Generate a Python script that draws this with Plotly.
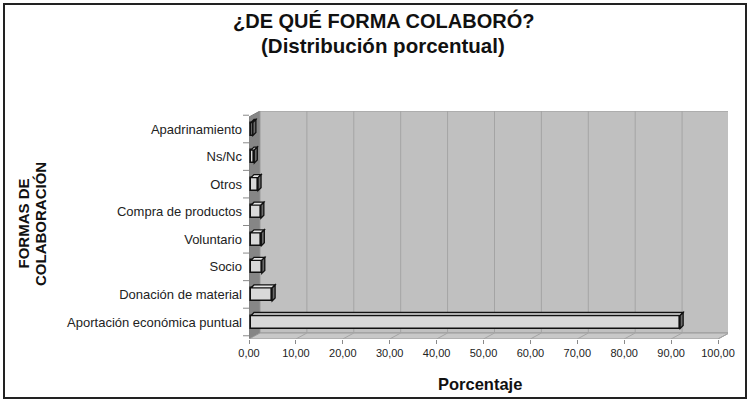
import plotly.graph_objects as go

# ---- data ----
categories = ["Aportación económica puntual", "Donación de material", "Socio",
              "Voluntario", "Compra de productos", "Otros", "Ns/Nc", "Apadrinamiento"]
values = [91.5, 4.5, 2.3, 2.2, 2.1, 1.5, 0.7, 0.4]
x_ticks = [0, 10, 20, 30, 40, 50, 60, 70, 80, 90, 100]
x_tick_labels = ["0,00", "10,00", "20,00", "30,00", "40,00", "50,00",
                 "60,00", "70,00", "80,00", "90,00", "100,00"]

# ---- geometry (pixels) ----
W, H = 750, 401
L, R, T, B = 249, 728, 111, 339
PXU = 4.69             # px per x unit
PYU = 27.57            # px per category
Y0PX = 322             # pixel centre of first category
XMAX = (R - L) / PXU
YMIN = (Y0PX - B) / PYU
YMAX = (Y0PX - T) / PYU
DX = 11 / PXU          # wall depth
DY = 6 / PYU
BDX = 3 / PXU          # bar depth
BDY = 3 / PYU
BW = 13 / PYU          # bar thickness
BX0 = 2 / PXU          # bars start slightly behind the front plane

def px(xp):
    return (xp - L) / (R - L)

def py(yp):
    return (B - yp) / (B - T)

ypos = list(range(len(categories)))
yfb = YMIN + DY  # floor back edge

shapes = []
# side wall
shapes.append(dict(type="path", xref="x", yref="y", layer="below",
                   path=f"M0,{YMIN} L0,{YMAX-DY} L{DX},{YMAX} L{DX},{yfb} Z",
                   fillcolor="#868686", line=dict(color="#7a7a7a", width=1)))
# back wall
shapes.append(dict(type="rect", xref="x", yref="y", layer="below",
                   x0=DX, x1=100 + DX, y0=yfb, y1=YMAX,
                   fillcolor="#c0c0c0", line=dict(color="#9a9a9a", width=1)))
# floor
shapes.append(dict(type="path", xref="x", yref="y", layer="below",
                   path=f"M0,{YMIN} L100,{YMIN} L{100+DX},{yfb} L{DX},{yfb} Z",
                   fillcolor="#c8c8c8", line=dict(color="#9a9a9a", width=1)))
# grid lines
for t in x_ticks[1:-1]:
    shapes.append(dict(type="line", xref="x", yref="y", layer="below",
                       x0=t + DX, x1=t + DX, y0=yfb, y1=YMAX,
                       line=dict(color="#a4a4a4", width=1)))
for t in x_ticks[1:]:
    shapes.append(dict(type="line", xref="x", yref="y", layer="below",
                       x0=t, x1=t + DX, y0=YMIN, y1=yfb,
                       line=dict(color="#a4a4a4", width=1)))
# bar 3D faces
for yi, v in zip(ypos, values):
    top = yi + BW / 2
    bot = yi - BW / 2
    xe = BX0 + v
    shapes.append(dict(type="path", xref="x", yref="y", layer="above",
                       path=f"M{BX0},{top} L{xe},{top} L{xe+BDX},{top+BDY} L{BX0+BDX},{top+BDY} Z",
                       fillcolor="#e6e6e6", line=dict(color="#111111", width=1.3)))
    shapes.append(dict(type="path", xref="x", yref="y", layer="above",
                       path=f"M{xe},{bot} L{xe+BDX},{bot+BDY} L{xe+BDX},{top+BDY} L{xe},{top} Z",
                       fillcolor="#6a6a6a", line=dict(color="#111111", width=1.3)))
# y tick marks at boundaries
for i in range(len(categories) + 1):
    yb = i - 0.5
    shapes.append(dict(type="line", xref="paper", yref="y", layer="above",
                       x0=px(L - 6), x1=px(L), y0=yb, y1=yb,
                       line=dict(color="#8a8a8a", width=1)))
# outer frame
shapes.append(dict(type="rect", xref="paper", yref="paper", layer="above",
                   x0=px(4), x1=px(746), y0=py(398), y1=py(4),
                   line=dict(color="#222222", width=2), fillcolor="rgba(0,0,0,0)"))

fig = go.Figure()
fig.add_trace(go.Bar(
    y=ypos, x=values, base=BX0, orientation="h", width=BW,
    marker=dict(color="#d9d9d9", line=dict(color="#111111", width=1.6)),
    hoverinfo="x+text", text=categories, textposition="none",
))

font_main = "Liberation Sans, Arial, sans-serif"
def ann(text, xp, yp, size, angle=0):
    return dict(text=text, x=px(xp), y=py(yp), xref="paper", yref="paper",
                xanchor="center", yanchor="middle", showarrow=False,
                textangle=angle,
                font=dict(family=font_main, size=size, color="#111111"))

annotations = [
    ann("<b>¿DE QUÉ FORMA COLABORÓ?</b>", 383, 20, 20),
    ann("<b>(Distribución porcentual)</b>", 383, 46, 20.5),
    ann("<b>FORMAS DE</b>", 22.5, 224, 15, -90),
    ann("<b>COLABORACIÓN</b>", 40, 224, 15, -90),
    ann("<b>Porcentaje</b>", 480, 384, 16.5),
]

fig.update_layout(
    width=W, height=H,
    margin=dict(l=L, r=W - R, t=T, b=H - B, pad=0),
    paper_bgcolor="white", plot_bgcolor="white",
    showlegend=False, bargap=0,
    shapes=shapes, annotations=annotations,
    xaxis=dict(range=[0, XMAX], tickmode="array", tickvals=x_ticks,
               ticktext=x_tick_labels, showgrid=False, zeroline=False,
               showline=False, ticks="outside", ticklen=4, tickcolor="#8a8a8a",
               tickfont=dict(family=font_main, size=11, color="#222222"),
               fixedrange=True),
    yaxis=dict(range=[YMIN, YMAX], tickmode="array", tickvals=ypos,
               ticktext=categories, showgrid=False, zeroline=False,
               showline=False, ticks="", ticklabelstandoff=6,
               tickfont=dict(family=font_main, size=13, color="#222222"),
               fixedrange=True),
)

fig.write_html("out.html", config={"displayModeBar": False},
               post_script="document.body.style.margin='0';document.body.style.padding='0';")
